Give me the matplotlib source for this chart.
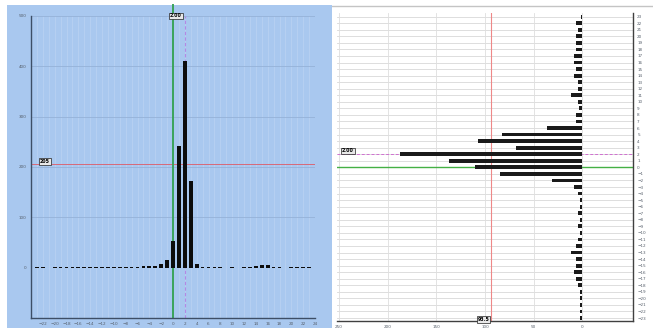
import matplotlib
matplotlib.use("Agg")
import matplotlib.pyplot as plt
from matplotlib.patches import Rectangle

# Horizontal offset histogram (left panel)
x_bins = list(range(-23, 24))
x_counts = [2, 2, 0, 2, 2, 2, 2, 2, 1, 1, 1, 1, 1, 1, 1, 1, 1, 1,
            4, 4, 3, 8, 15, 53, 241, 410, 172, 7,
            1, 1, 2, 2, 0, 2, 0, 2, 2, 4, 6, 6, 2, 2, 0, 2, 1, 1, 1]

# Vertical offset histogram (right panel), rows 23 down to -23
y_bins = list(range(23, -24, -1))
y_counts = [1, 7, 4, 7, 7, 7, 9, 9, 7, 9, 4, 4, 12, 4, 3, 7, 7,
            36, 83, 107, 68, 187, 137, 110, 85, 31, 9, 4, 2, 2, 4, 2, 4, 2,
            4, 7, 12, 7, 7, 9, 7, 4, 2, 2, 2, 2, 2]

x_ticks = list(range(-22, 25, 2))
left_yticks = [0, 100, 200, 300, 400, 500]
right_xticks = [250, 200, 150, 100, 50, 0]

x_peak, x_half = 2, 205
y_peak, y_half = 2, 93.5
x_peak_label, x_half_label = "2.00", "205"
y_peak_label, y_half_label = "2.00", "93.5"

W, H = 653, 328
fig = plt.figure(figsize=(W / 100, H / 100), dpi=100, facecolor="white")

def fx(px):
    return px / W

def fy(py):
    return 1 - py / H

# panel backgrounds and frame
fig.patches.append(Rectangle((fx(7), 0), fx(325), fy(5), transform=fig.transFigure,
                             facecolor="#a9c8ef", edgecolor="none", zorder=-5))
fig.add_artist(plt.Line2D([fx(332), 1], [fy(6), fy(6)], transform=fig.transFigure,
                          color="#c4c4c4", lw=1, zorder=-5))

tick_kw = dict(labelsize=3, colors="#555e6a", length=0, pad=3)
box = dict(boxstyle="square,pad=0.2", facecolor="#e8e8e8", edgecolor="#202020", lw=0.5)

# ---------- left panel ----------
axl = fig.add_axes([fx(31), fy(318), fx(284), (318 - 16) / H])
axl.set_facecolor("#a9c8ef")
axl.bar(x_bins, x_counts, width=0.62, color="#0c0c0c", zorder=3)
axl.set_xlim(-24, 24)
axl.set_ylim(-100, 500)
axl.set_xticks(x_ticks)
axl.set_yticks(left_yticks)
axl.tick_params(**tick_kw)
for v in range(-24, 25):
    axl.axvline(v, color="#b8d1f2", lw=0.6, zorder=1)
for v in left_yticks[1:]:
    axl.axhline(v, color="#95b2d8", lw=0.6, zorder=1)
for s in ("top", "right"):
    axl.spines[s].set_visible(False)
for s in ("left", "bottom"):
    axl.spines[s].set_color("#3d4e66")
    axl.spines[s].set_linewidth(1.0)
axl.axvline(0, ymin=0, ymax=1.036, color="#3aa35a", lw=1.4, zorder=2.5, clip_on=False)
axl.axvline(x_peak, color="#b488e4", lw=0.8, ls=(0, (3, 2)), zorder=2)
axl.axhline(x_half, color="#d86878", lw=0.7, zorder=2)
axl.text(-22.5, x_half + 6, x_half_label, fontsize=3.4, fontweight="bold",
         ha="left", va="center", bbox=box, zorder=5)
axl.text(0.5, 500, x_peak_label, fontsize=3.4, fontweight="bold",
         ha="center", va="center", bbox=box, zorder=5)

# ---------- right panel ----------
axr = fig.add_axes([fx(337), fy(321.3), fx(296), (321.3 - 13.4) / H])
axr.set_facecolor("white")
axr.barh(y_bins, y_counts, height=0.58, color="#1a1a1a", zorder=3)
axr.set_xlim(252, -52)
axr.set_ylim(-23.5, 23.5)
axr.set_xticks(right_xticks)
axr.set_yticks(y_bins)
axr.yaxis.tick_right()
axr.tick_params(**tick_kw)
for v in y_bins:
    axr.axhline(v, color="#d8d8d8", lw=0.6, zorder=1)
for v in right_xticks:
    axr.axvline(v, color="#dedede", lw=0.6, zorder=1)
for s in ("top", "left"):
    axr.spines[s].set_visible(False)
for s in ("right", "bottom"):
    axr.spines[s].set_color("#404040")
    axr.spines[s].set_linewidth(1.0)
axr.axhline(0, color="#44b044", lw=1.0, zorder=2.5)
axr.axhline(y_peak, color="#d070d0", lw=0.7, ls=(0, (3, 2)), zorder=2.5)
axr.axvline(y_half, color="#ee8888", lw=0.8, zorder=2.5)
axr.text(247, y_peak + 0.5, y_peak_label, fontsize=3.4, fontweight="bold",
         ha="left", va="center", bbox=box, zorder=5)
axr.text(y_half + 8, -23.2, y_half_label, fontsize=3.4, fontweight="bold",
         ha="center", va="center", bbox=box, zorder=5)

fig.savefig("out.png", dpi=100, facecolor="white")
